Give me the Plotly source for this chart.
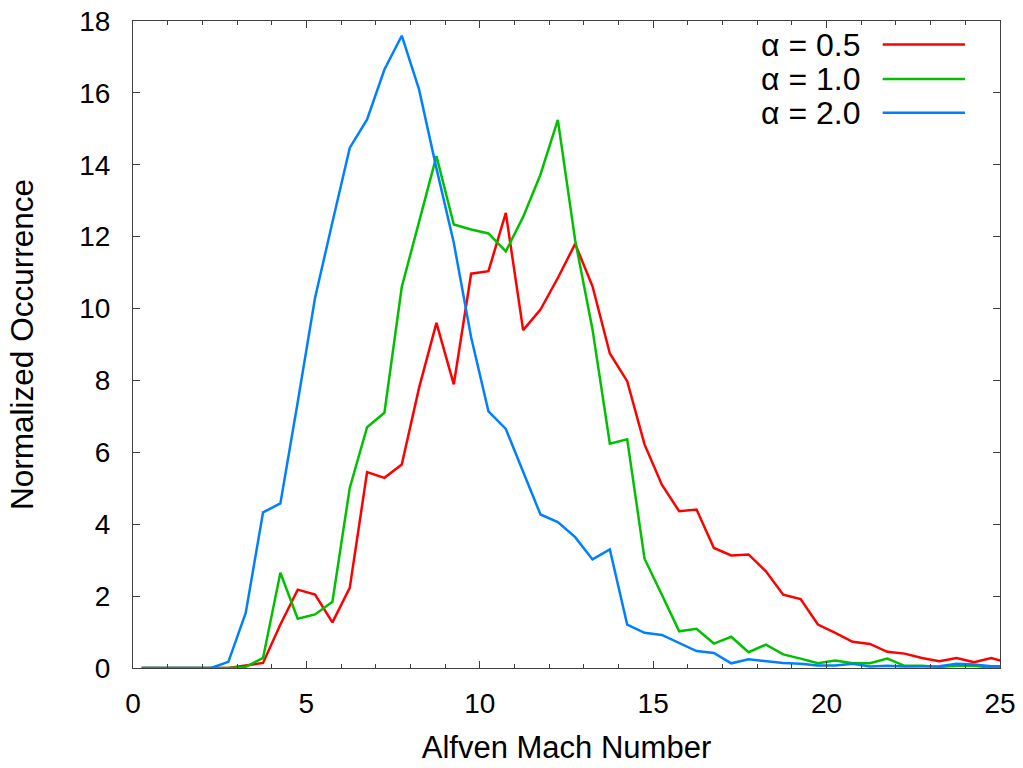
import plotly.graph_objects as go

# Bin centres (Alfven Mach number)
mach = [0.25, 0.75, 1.25, 1.75, 2.25, 2.75, 3.25, 3.75, 4.25, 4.75,
        5.25, 5.75, 6.25, 6.75, 7.25, 7.75, 8.25, 8.75, 9.25, 9.75,
        10.25, 10.75, 11.25, 11.75, 12.25, 12.75, 13.25, 13.75, 14.25, 14.75,
        15.25, 15.75, 16.25, 16.75, 17.25, 17.75, 18.25, 18.75, 19.25, 19.75,
        20.25, 20.75, 21.25, 21.75, 22.25, 22.75, 23.25, 23.75, 24.25, 24.75,
        25.25]

alpha_05 = [0, 0, 0, 0, 0, 0, 0.07, 0.14, 1.21, 2.18,
            2.04, 1.27, 2.23, 5.45, 5.29, 5.66, 7.8, 9.6, 7.89, 10.97,
            11.04, 12.66, 9.40, 9.97, 10.85, 11.8, 10.62, 8.75, 7.98, 6.22,
            5.10, 4.36, 4.41, 3.34, 3.13, 3.16, 2.69, 2.04, 1.92, 1.21,
            0.98, 0.73, 0.67, 0.45, 0.40, 0.28, 0.19, 0.28, 0.16, 0.28,
            0.14]

alpha_10 = [0, 0, 0, 0, 0, 0, 0.03, 0.28, 2.65, 1.37,
            1.49, 1.84, 5.01, 6.70, 7.10, 10.6, 12.42, 14.24, 12.34, 12.2,
            12.09, 11.59, 12.55, 13.73, 15.25, 11.9, 9.42, 6.24, 6.36, 3.04,
            2.04, 1.02, 1.09, 0.68, 0.87, 0.44, 0.65, 0.38, 0.26, 0.13,
            0.21, 0.13, 0.13, 0.26, 0.06, 0.06, 0.03, 0.06, 0.06, 0.01,
            0.02]

alpha_20 = [0, 0, 0, 0, 0, 0.17, 1.53, 4.33, 4.58, 7.4,
            10.3, 12.4, 14.47, 15.26, 16.65, 17.59, 16.09, 13.9, 11.83, 9.2,
            7.14, 6.65, 5.47, 4.27, 4.06, 3.64, 3.02, 3.30, 1.21, 0.98,
            0.92, 0.70, 0.47, 0.42, 0.13, 0.24, 0.19, 0.14, 0.12, 0.07,
            0.07, 0.12, 0.04, 0.06, 0.04, 0.04, 0.05, 0.12, 0.10, 0.05,
            0.05]

labels = ["\u03b1 = 0.5", "\u03b1 = 1.0", "\u03b1 = 2.0"]
colors = ["#ff0000", "#00c000", "#0080ff"]
series = [alpha_05, alpha_10, alpha_20]

FONT = "Liberation Sans, Arial, sans-serif"

fig = go.Figure()
for lab, col, ys in zip(labels, colors, series):
    fig.add_trace(go.Scatter(x=mach, y=ys, mode="lines", name=lab,
                             line=dict(color=col, width=2.5),
                             showlegend=False))

# Manual legend (text on the left, sample line on the right)
leg_y = [0.9635, 0.9105, 0.858]
for lab, col, yy in zip(labels, colors, leg_y):
    fig.add_annotation(x=0.8405, y=yy, xref="paper", yref="paper",
                       text=lab, showarrow=False, xanchor="right",
                       yanchor="middle",
                       font=dict(family=FONT, size=32, color="black"))
    fig.add_shape(type="line", xref="paper", yref="paper",
                  x0=0.8647, x1=0.9596, y0=yy, y1=yy,
                  line=dict(color=col, width=2.5))

axis_common = dict(
    showgrid=False, zeroline=False, showline=True, linecolor="#404040",
    linewidth=1, mirror="ticks", ticks="inside", tickcolor="#404040",
    ticklen=7, tickwidth=1, automargin=False,
    tickfont=dict(family=FONT, size=28, color="black"),
)

fig.update_xaxes(range=[0, 25], tickmode="linear", tick0=0, dtick=5,
                 minor=dict(ticks="inside", ticklen=4, dtick=1,
                            tickcolor="#404040"),
                 title=dict(text="Alfven Mach Number",
                            font=dict(family=FONT, size=31, color="black"),
                            standoff=18),
                 ticklabelstandoff=10,
                 **axis_common)
fig.update_yaxes(range=[0, 18], tickmode="linear", tick0=0, dtick=2,
                 title=dict(text="Normalized Occurrence",
                            font=dict(family=FONT, size=31.5, color="black"),
                            standoff=36),
                 ticklabelstandoff=16,
                 **axis_common)

fig.update_layout(width=1023, height=768,
                  margin=dict(l=133, r=23, t=21, b=100, autoexpand=False),
                  plot_bgcolor="white", paper_bgcolor="white")

fig.write_html("out.html")
